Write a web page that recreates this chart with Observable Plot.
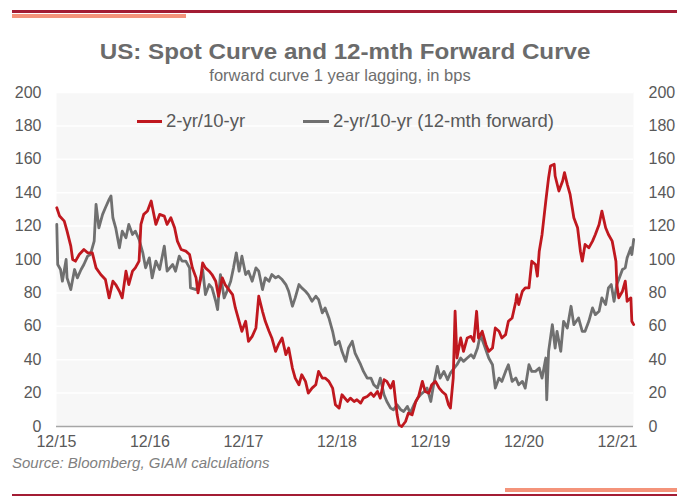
<!DOCTYPE html>
<html>
<head>
<meta charset="utf-8">
<script src="https://cdn.jsdelivr.net/npm/d3@7"></script>
<script src="https://cdn.jsdelivr.net/npm/@observablehq/plot@0.6"></script>
<style>
  html, body { margin: 0; padding: 0; background: #ffffff; }
  #page { position: relative; width: 677px; height: 496px; overflow: hidden; font-family: "Liberation Sans", Arial, sans-serif; }
  .abs { position: absolute; white-space: nowrap; }
  #title { left: 0; width: 690px; top: 41px; text-align: center; font-size: 22px; line-height: 22px; font-weight: bold; color: #6b6b6b; }
  #title span { display: inline-block; transform: scaleX(1.1); }
  #subtitle { left: 0; width: 680px; top: 67px; text-align: center; font-size: 16.5px; line-height: 16.5px; color: #6e6e6e; }
  #source { left: 12px; top: 455px; font-size: 15px; line-height: 15px; font-style: italic; color: #808080; }
  .leg-swatch { height: 3px; }
  .leg-text { font-size: 18.5px; line-height: 18.5px; color: #595959; top: 112px; }
  #chart { position: absolute; left: 0; top: 80px; }
</style>
</head>
<body>
<div id="page">
  <div class="abs" style="left:12px; top:10px; width:665px; height:3px; background:#a31c34;"></div>
  <div class="abs" style="left:12px; top:14px; width:174px; height:4px; background:#f4937a;"></div>
  <div id="title" class="abs"><span>US: Spot Curve and 12-mth Forward Curve</span></div>
  <div id="subtitle" class="abs">forward curve 1 year lagging, in bps</div>
  <div id="chart"></div>
  <div class="abs leg-swatch" style="left:137px; top:120px; width:25px; background:#c0181f;"></div>
  <div class="abs leg-text" style="left:166px;">2-yr/10-yr</div>
  <div class="abs leg-swatch" style="left:303px; top:120px; width:26px; background:#707070;"></div>
  <div class="abs leg-text" style="left:333px;">2-yr/10-yr (12-mth forward)</div>
  <div id="source" class="abs">Source: Bloomberg, GIAM calculations</div>
  <div class="abs" style="left:505px; top:488px; width:172px; height:4px; background:#f4937a;"></div>
  <div class="abs" style="left:12px; top:494px; width:665px; height:1.5px; background:#a31c34;"></div>
</div>
<script>
// Spot 2-yr/10-yr spread (bps); time as decimal years
const spotT = [2015.92,2015.95,2016.00,2016.03,2016.07,2016.09,2016.12,2016.16,2016.21,2016.25,
2016.30,2016.34,2016.39,2016.44,2016.48,2016.52,2016.55,2016.59,2016.62,2016.66,
2016.69,2016.73,2016.76,2016.80,2016.82,2016.85,2016.89,2016.93,2016.94,2016.98,
2017.02,2017.07,2017.10,2017.14,2017.18,2017.21,2017.25,2017.30,2017.34,2017.37,
2017.41,2017.43,2017.46,2017.48,2017.51,2017.55,2017.58,2017.62,2017.65,2017.69,
2017.72,2017.76,2017.80,2017.83,2017.87,2017.90,2017.94,2017.97,2018.01,2018.05,
2018.08,2018.12,2018.15,2018.19,2018.22,2018.26,2018.29,2018.33,2018.37,2018.40,
2018.44,2018.47,2018.51,2018.54,2018.58,2018.61,2018.65,2018.69,2018.72,2018.76,
2018.79,2018.83,2018.87,2018.90,2018.94,2018.97,2019.03,2019.06,2019.10,2019.13,
2019.17,2019.20,2019.24,2019.28,2019.31,2019.35,2019.38,2019.42,2019.45,2019.49,
2019.52,2019.56,2019.58,2019.61,2019.65,2019.68,2019.72,2019.76,2019.79,2019.83,
2019.86,2019.90,2019.93,2019.97,2020.01,2020.04,2020.08,2020.11,2020.13,2020.16,
2020.18,2020.20,2020.24,2020.27,2020.31,2020.35,2020.38,2020.41,2020.43,2020.47,
2020.51,2020.54,2020.58,2020.61,2020.65,2020.68,2020.72,2020.75,2020.79,2020.83,
2020.84,2020.86,2020.90,2020.93,2020.97,2021.00,2021.04,2021.06,2021.08,2021.11,
2021.15,2021.18,2021.20,2021.24,2021.25,2021.29,2021.33,2021.35,2021.38,2021.41,
2021.45,2021.49,2021.52,2021.54,2021.57,2021.61,2021.65,2021.68,2021.72,2021.75,
2021.79,2021.82,2021.86,2021.90,2021.91,2021.93,2021.97,2022.00,2022.02,2022.06,
2022.07,2022.09];
const spotV = [131,126,123,117,108,100,99,103,106,104,
104,95,91,88,77,87,85,81,77,93,
85,93,95,99,121,127,129,135,132,121,
127,126,121,125,119,111,106,105,103,95,
89,80,89,98,95,93,91,87,78,89,
85,82,79,71,63,57,63,51,54,59,
78,69,63,57,53,45,49,53,43,47,
35,29,25,31,27,20,23,25,33,29,
29,27,23,13,11,19,15,17,15,16,
14,17,18,20,18,21,17,28,27,23,
27,7,1,0,3,8,7,15,18,27,
21,20,25,27,23,21,19,13,11,29,
69,41,53,45,53,54,51,69,53,57,
49,45,47,59,57,53,55,63,65,75,
79,73,81,83,83,99,97,90,105,115,
135,149,156,157,150,141,147,152,145,139,
125,119,105,99,109,107,111,115,121,129,
119,115,111,99,85,77,81,87,75,77,
63,61];

// 12-mth forward 2-yr/10-yr spread (bps)
const fwdT = [2015.92,2015.93,2015.96,2015.98,2016.02,2016.03,2016.07,2016.11,2016.14,2016.18,
2016.21,2016.25,2016.28,2016.32,2016.34,2016.37,2016.41,2016.44,2016.48,2016.50,
2016.52,2016.55,2016.59,2016.62,2016.66,2016.69,2016.73,2016.76,2016.80,2016.84,
2016.87,2016.91,2016.94,2016.98,2017.02,2017.07,2017.10,2017.16,2017.19,2017.23,
2017.26,2017.30,2017.34,2017.35,2017.41,2017.44,2017.48,2017.51,2017.55,2017.58,
2017.62,2017.64,2017.67,2017.71,2017.74,2017.78,2017.81,2017.84,2017.87,2017.90,
2017.94,2017.97,2018.01,2018.05,2018.08,2018.12,2018.15,2018.19,2018.22,2018.26,
2018.29,2018.33,2018.37,2018.40,2018.44,2018.47,2018.51,2018.54,2018.58,2018.61,
2018.65,2018.69,2018.72,2018.76,2018.79,2018.83,2018.87,2018.90,2018.94,2018.97,
2019.01,2019.04,2019.08,2019.11,2019.17,2019.20,2019.24,2019.28,2019.31,2019.35,
2019.38,2019.42,2019.45,2019.49,2019.52,2019.56,2019.60,2019.63,2019.67,2019.70,
2019.74,2019.78,2019.81,2019.85,2019.88,2019.92,2019.95,2019.99,2020.02,2020.06,
2020.10,2020.13,2020.17,2020.20,2020.24,2020.27,2020.31,2020.35,2020.38,2020.42,
2020.45,2020.49,2020.54,2020.58,2020.61,2020.65,2020.68,2020.72,2020.75,2020.79,
2020.83,2020.86,2020.90,2020.93,2020.97,2021.00,2021.04,2021.08,2021.11,2021.15,
2021.16,2021.18,2021.22,2021.25,2021.27,2021.31,2021.34,2021.38,2021.42,2021.45,
2021.50,2021.54,2021.57,2021.61,2021.65,2021.68,2021.72,2021.75,2021.79,2021.82,
2021.85,2021.88,2021.91,2021.95,2021.97,2022.00,2022.02,2022.06,2022.07,2022.09];
const fwdV = [121,97,94,87,100,89,82,94,89,94,
97,102,103,111,133,119,127,131,136,138,
125,119,107,117,113,121,115,117,112,104,
95,101,89,99,94,108,93,97,93,102,
99,99,95,83,82,85,94,79,85,83,
75,70,91,77,81,87,95,104,93,102,
91,93,87,95,93,82,89,87,91,89,
90,88,85,81,72,77,85,83,81,79,
75,78,76,68,71,65,57,49,51,45,
39,47,51,44,37,33,29,29,25,23,
29,19,15,11,10,13,10,9,12,8,
13,17,19,21,23,15,25,36,29,33,
28,32,35,37,41,39,41,43,41,47,
55,49,41,37,23,29,27,33,37,27,
29,25,27,23,37,33,33,35,29,41,
16,45,61,47,57,45,63,59,72,61,
65,57,57,63,71,67,69,77,73,83,
85,75,85,91,94,95,101,107,103,112];

const yTicks = [0,20,40,60,80,100,120,140,160,180,200];
const xTickLabels = ["12/15","12/16","12/17","12/18","12/19","12/20","12/21"];
const xTicks = xTickLabels.map(s => 2000 + +s.slice(3) + 11/12);

const spot = spotT.map((t, i) => ({t, v: spotV[i]}));
const fwd = fwdT.map((t, i) => ({t, v: fwdV[i]}));

const chart = Plot.plot({
  width: 677,
  height: 380,
  marginLeft: 56,
  marginRight: 44,
  marginTop: 12,
  marginBottom: 34,
  style: {background: "transparent", fontFamily: "'Liberation Sans', Arial, sans-serif", fontSize: "16px", color: "#595959"},
  x: {domain: [2015.917, 2022.088]},
  y: {domain: [0, 200]},
  marks: [
    Plot.frame({fill: "#f7f7f7", stroke: null}),
    Plot.gridY(yTicks.slice(1), {stroke: "#ffffff", strokeOpacity: 1, strokeWidth: 1.5}),
    Plot.ruleY([0], {stroke: "#a6a6a6", strokeWidth: 1.5}),
    Plot.axisY(yTicks, {anchor: "left", tickSize: 0, tickPadding: 15, label: null, fontSize: 16}),
    Plot.axisY(yTicks, {anchor: "right", tickSize: 0, tickPadding: 15, label: null, fontSize: 16}),
    Plot.axisX(xTicks, {anchor: "bottom", tickSize: 0, tickPadding: 9, label: null, fontSize: 16,
      tickFormat: (d, i) => xTickLabels[i]}),
    Plot.line(fwd, {x: "t", y: "v", stroke: "#707070", strokeWidth: 2.8, curve: "linear"}),
    Plot.line(spot, {x: "t", y: "v", stroke: "#c0181f", strokeWidth: 2.8, curve: "linear"})
  ]
});
document.getElementById("chart").appendChild(chart);
</script>
</body>
</html>
